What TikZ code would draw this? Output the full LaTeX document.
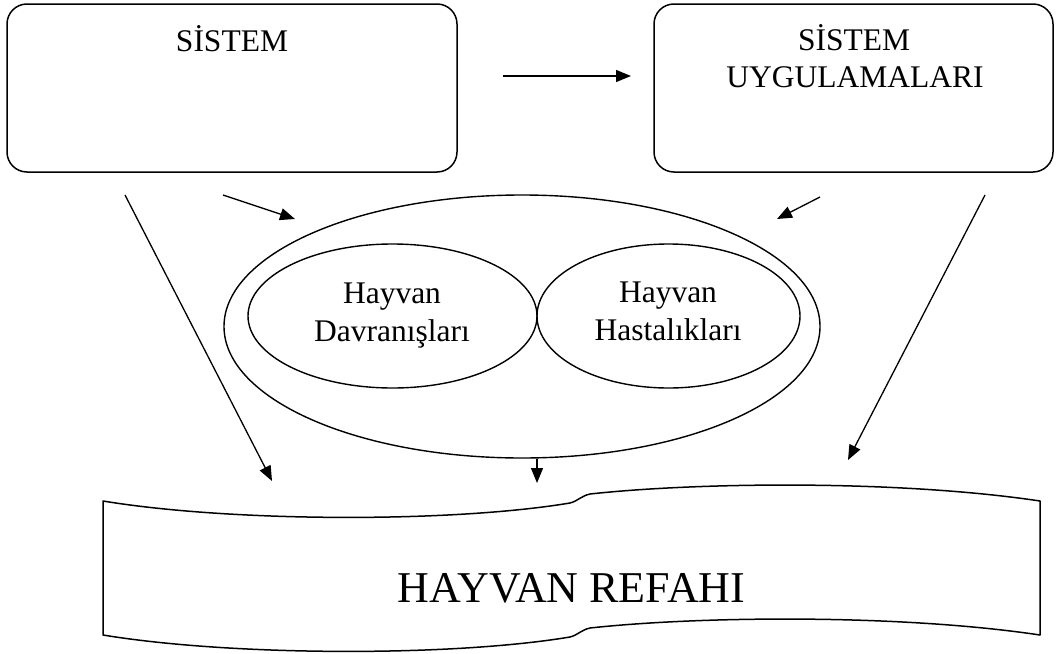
\documentclass[tikz,border=0pt]{standalone}
\usepackage{fontspec}
\setmainfont{Liberation Serif}
\usetikzlibrary{arrows.meta,shapes.geometric}
\begin{document}
\begin{tikzpicture}[x=1pt,y=-1pt,
  boxshape/.style={draw, line width=1.5pt, rounded corners=20pt, inner sep=0pt, rectangle},
  ellshape/.style={draw, line width=1.4pt, ellipse, inner sep=0pt},
  txt/.style={inner sep=0pt, anchor=base, font=\fontsize{31.5}{37}\selectfont},
  bigtxt/.style={inner sep=0pt, anchor=base, font=\fontsize{44}{50}\selectfont},
  arr/.style={line width=1.3pt, -{Triangle[length=15pt,width=12pt]}}]
\path[use as bounding box] (0,0) rectangle (1062,653);

% boxes
\node[boxshape, minimum width=450pt, minimum height=168pt] (sys) at (232,88) {};
\node[boxshape, minimum width=399pt, minimum height=168pt] (app) at (853.5,88) {};
\node[txt] (sysT) at (232,51) {SİSTEM};
\node[txt] (appT1) at (854,50) {SİSTEM};
\node[txt] (appT2) at (855,87) {UYGULAMALARI};

% ellipses
\node[ellshape, minimum width=596pt, minimum height=263pt] (outer) at (522,326.5) {};
\node[ellshape, minimum width=289pt, minimum height=144pt] (beh) at (392.5,316) {};
\node[ellshape, minimum width=263pt, minimum height=144pt] (dis) at (668.5,316) {};
\node[txt] (behT1) at (392,303) {Hayvan};
\node[txt] (behT2) at (392,341) {Davranışları};
\node[txt] (disT1) at (668,302) {Hayvan};
\node[txt] (disT2) at (668,340) {Hastalıkları};

% banner
\draw[line width=1.5pt, line join=round]
  (103,501) .. controls (230,522) and (450,523) .. (570,503)
  .. controls (578,501) and (581,496) .. (590,494)
  .. controls (700,482) and (900,480) .. (1040,501)
  -- (1040,635)
  .. controls (900,614) and (700,616) .. (590,628)
  .. controls (581,630) and (578,635) .. (570,637)
  .. controls (450,657) and (230,656) .. (103,635) -- cycle;
\node[bigtxt] (welT) at (571.5,602) {HAYVAN REFAHI};

% connector end points
\coordinate (t1) at (503,76);   \coordinate (t2) at (631,76);
\coordinate (l1) at (223,195);  \coordinate (l2) at (295,219);
\coordinate (r1) at (820,197);  \coordinate (r2) at (777,219);
\coordinate (ll1) at (125,195); \coordinate (ll2) at (272,481);
\coordinate (rr1) at (985,195); \coordinate (rr2) at (848,460);
\coordinate (d2) at (537,483);

\draw[arr] (t1) -- (t2);
\draw[arr] (l1) -- (l2);
\draw[arr] (r1) -- (r2);
\draw[arr] (ll1) -- (ll2);
\draw[arr] (rr1) -- (rr2);
\draw[arr] (outer.south -| d2) -- (d2);
\end{tikzpicture}
\end{document}
